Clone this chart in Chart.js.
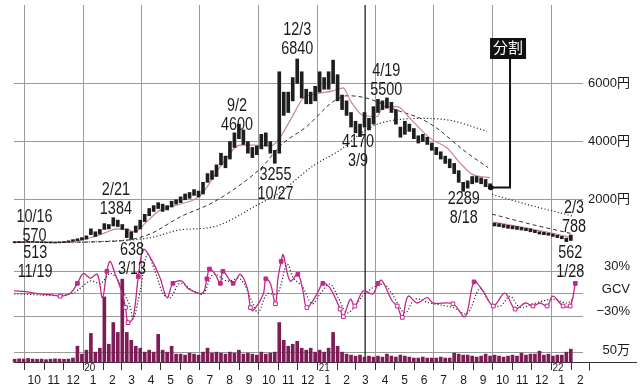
<!DOCTYPE html>
<html>
<head>
<meta charset="utf-8">
<script src="https://cdn.jsdelivr.net/npm/chart.js@4.4.1/dist/chart.umd.min.js"></script>
<style>
  html, body { margin: 0; padding: 0; background: #fff; }
</style>
</head>
<body>
<canvas id="chart" width="640" height="392"></canvas>
<script>
// days counted from 2020-01-01
const day = (y, m, d) => Math.round((Date.UTC(y, m - 1, d) - Date.UTC(2020, 0, 1)) / 864e5);

// weekly candles, first week starts 2019-09-16 (day -107)
const firstWeek = -107;
const candleLow = [
  520, 525, 530, 535, 540, 530, 525, 520, 515, 513, 520, 525,
  540, 570, 590, 620, 650, 800, 740, 820, 980, 1000, 1100, 1080, 980,
  700, 638, 880, 1000, 1250, 1450, 1600, 1700, 1600, 1650, 1750, 1850,
  1900, 2000, 2050, 2150, 2100, 2200, 2600, 2700, 2800, 3200, 3100, 3400,
  3800, 4100, 3900, 3600, 3450, 3550, 3750, 3850, 3600, 3255, 3600, 4900,
  5000, 5400, 6000, 5500, 5300, 5300, 5400, 5700, 5800, 5800, 6000, 5400,
  5100, 4900, 4500, 4300, 4170, 4500, 4400, 4600, 5000, 5100, 5150, 5000,
  4600, 4150, 4250, 4350, 4100, 3950, 4000, 3900, 3700, 3550, 3400, 3250,
  3100, 2900, 2600, 2289, 2400, 2550, 2600, 2550, 2450, 2400,
  1100, 1080, 1050, 1020, 1000, 980, 960, 940, 900, 870, 820, 800, 780, 740, 700, 660, 562, 600
];
const candleHigh = [
  560, 565, 560, 570, 570, 560, 555, 550, 545, 540, 545, 560,
  590, 630, 660, 700, 760, 1000, 900, 980, 1180, 1150, 1384, 1300, 1150,
  1000, 900, 1100, 1300, 1500, 1700, 1800, 1900, 1850, 1800, 1950, 2000,
  2100, 2200, 2250, 2350, 2300, 2600, 2900, 3000, 3200, 3600, 3500, 4000,
  4300, 4600, 4400, 4000, 3800, 3850, 4250, 4300, 4000, 3700, 6400, 5700,
  5700, 6200, 6840, 6400, 5800, 5700, 5900, 6400, 6200, 6400, 6800, 6300,
  5600, 5400, 5000, 4700, 4600, 5000, 4800, 5200, 5450, 5400, 5500, 5350,
  5100, 4500, 4700, 4600, 4450, 4200, 4250, 4150, 3950, 3800, 3650, 3500,
  3400, 3250, 3000, 2600, 2650, 2800, 2800, 2750, 2700, 2550,
  1200, 1180, 1150, 1120, 1100, 1080, 1050, 1020, 1000, 950, 900, 880, 850, 820, 780, 740, 680, 788
];
// weekly volume, 万株
const volume = [
  14, 16, 15, 18, 15, 14, 15, 12, 14, 16, 15, 14,
  15, 20, 80, 40, 60, 145, 50, 70, 330, 90, 200, 150, 420,
  150, 110, 80, 70, 50, 60, 50, 140, 60, 50, 80, 40,
  40, 35, 45, 40, 35, 50, 70, 45, 50, 45, 40, 50,
  45, 60, 40, 45, 40, 35, 50, 40, 45, 50, 200, 110,
  80, 90, 105, 70, 60, 70, 50, 60, 50, 70, 150, 80,
  50, 40, 35, 30, 35, 25, 30, 25, 30, 25, 40, 30,
  25, 35, 30, 25, 20, 20, 25, 20, 20, 20, 25, 20,
  20, 45, 40, 35, 35, 30, 25, 30, 40, 30,
  35, 30, 25, 30, 35, 30, 45, 35, 40, 40, 55, 35, 40, 30, 35, 35, 50, 65
];

// moving averages (null = break at the stock split)
const ma25Days = [-108, -20, 11, 34, 53, 70, 81, 97, 120, 151, 183, 218, 245, 265, 292, 303, 323, 343, 365, 390, 406, 417, 437, 459, 468, 490, 510, 541, 568, 588, 608, 635, 637, 640, 682, 729, 763];
const ma25 = [540, 545, 695, 864, 1000, 966, 898, 1203, 1644, 1847, 2153, 3271, 3881, 3881, 3847, 4017, 4729, 5475, 5644, 5746, 5847, 5407, 4898, 4864, 5203, 5203, 4797, 4119, 3780, 3271, 2864, 2763, null, 1237, 1068, 864, 695];
const ma75Days = [-108, -36, 27, 73, 105, 151, 203, 256, 281, 307, 349, 390, 412, 440, 491, 526, 552, 593, 632, 634, 638, 697, 764];
const ma75 = [540, 540, 560, 627, 830, 1407, 1915, 2695, 3169, 3847, 4525, 5373, 5576, 5508, 5068, 4797, 4458, 3712, 3102, null, 1508, 1169, 830];
const ma200Days = [-108, -20, 42, 105, 151, 203, 271, 307, 359, 401, 440, 463, 526, 573, 630, 634, 638, 697, 764];
const ma200 = [540, 540, 580, 695, 966, 1068, 1814, 2254, 3169, 3712, 4390, 4627, 4797, 4729, 4356, null, 2186, 1814, 1441];

// GCV (%)
const gcvDays = [-108, -90, -67, -51, -36, -20, -9, 0, 11, 22, 30, 37, 42, 50, 58, 62, 66, 70, 78, 86, 94, 108, 120, 131, 140, 154, 164, 186, 193, 197, 206, 214, 218, 234, 245, 256, 261, 265, 281, 285, 292, 300, 304, 309, 312, 323, 335, 343, 349, 365, 374, 385, 401, 406, 417, 424, 437, 452, 460, 466, 482, 490, 498, 507, 521, 537, 546, 577, 596, 610, 624, 640, 658, 674, 690, 702, 713, 724, 733, 749, 760, 768];
const gcv = [4, 3, 0, -1, -3, 1, 14, 27, 21, 26, -5, 30, 43, 26, 8, -3, -18, -38, -31, 23, 59, 43, 21, -5, 14, 17, 7, 1, 20, 33, 26, 14, 30, 14, 26, 8, -18, -22, 0, 20, 14, -13, 21, 43, 52, 17, 26, 4, -18, 0, 14, 8, -20, -30, -7, -16, 4, 0, 14, 18, -9, -16, -31, -3, -12, -5, -12, -13, -30, 16, 4, -16, 1, -20, -12, -16, -12, -16, -3, -16, -16, 14];
const gcvUpIdx = [6, 11, 19, 24, 28, 29, 31, 32, 33, 39, 43, 46, 50, 58, 69, 81];
const gcvDownIdx = [4, 16, 17, 36, 41, 48, 52, 53, 55, 61, 62, 67, 71, 73, 75, 77, 79, 80];
const gcvSigDays = [-108, -20, 11, 27, 42, 53, 62, 73, 78, 89, 100, 112, 125, 136, 151, 172, 187, 203, 225, 245, 265, 273, 287, 303, 318, 328, 342, 357, 370, 385, 398, 412, 427, 440, 468, 482, 502, 518, 541, 577, 599, 619, 635, 651, 666, 682, 702, 733, 755, 764];
const gcvSig = [0, 0, 17, 14, 27, 20, 4, -16, -33, 4, 52, 30, 0, -5, 14, 4, 0, 26, 17, 20, -13, -25, 0, 0, 39, 21, 10, -13, 0, 13, -5, -25, -13, 1, 13, 0, -25, -7, -12, -18, -26, 7, -12, -16, -3, -18, -13, -7, -12, -7];

const priceTicks = [2000, 4000, 6000];
const gcvTicks = [-30, 0, 30];
const gcvTickLabels = { '-30': '−30%', '0': 'GCV', '30': '30%' };
const volTicks = [50];

const notes = [
  { day: -76, value: 1407, lines: ['10/16', '570'] },
  { day: -75, value: 153, lines: ['513', '11/19'] },
  { day: 51, value: 2322, lines: ['2/21', '1384'] },
  { day: 76, value: 288, lines: ['638', '3/13'] },
  { day: 240, value: 5237, lines: ['9/2', '4600'] },
  { day: 300, value: 2864, lines: ['3255', '10/27'] },
  { day: 334, value: 7847, lines: ['12/3', '6840'] },
  { day: 473, value: 6424, lines: ['4/19', '5500'] },
  { day: 429, value: 3983, lines: ['4170', '3/9'] },
  { day: 594, value: 2017, lines: ['2289', '8/18'] },
  { day: 766, value: 1712, lines: ['2/3', '788'] },
  { day: 760, value: 153, lines: ['562', '1/28'] }
];
const splitMark = { day: 636, value: 2424, boxDay: 663, boxValue: 7200, text: '分割' };
const markerDay = 440;

const FONT = "'Liberation Sans', 'Noto Sans CJK JP', sans-serif";
const GRID = '#9a9a9a';
const PINK = '#c4258d';

// month ticks for the x axis
const xTicks = [];
const xInfo = new Map();
for (let y = 2019, m = 10; y * 12 + m <= 2022 * 12 + 2; m === 12 ? (y++, m = 1) : m++) {
  const start = day(y, m, 1);
  const next = m === 12 ? day(y + 1, 1, 1) : day(y, m + 1, 1);
  xTicks.push(start);
  xInfo.set(start, { kind: 'start', month: m, year: y });
  xTicks.push((start + next) / 2);
  xInfo.set((start + next) / 2, { kind: 'mid', month: m });
}

const weeks = candleLow.map((_, i) => firstWeek + 7 * i);
const pts = (days, vals) => days.map((d, i) => ({ x: d, y: vals[i] }));

const mctx = document.createElement('canvas').getContext('2d');
function widest(labels, size) {
  mctx.font = size + 'px ' + FONT;
  return Math.max(...labels.map(t => mctx.measureText(t).width));
}
const RIGHT = 44;

// condensed text: the reference uses a narrow face
function narrowText(ctx, text, x, y, sx) {
  ctx.save();
  ctx.translate(x, y);
  ctx.scale(sx, 1);
  ctx.fillText(text, 0, 0);
  ctx.restore();
}

const overlay = {
  id: 'overlay',
  beforeDatasetsDraw(chart) {
    const { ctx, chartArea, scales: { x } } = chart;
    const px = x.getPixelForValue(markerDay);
    ctx.save();
    ctx.strokeStyle = '#222';
    ctx.lineWidth = 1.3;
    ctx.beginPath();
    ctx.moveTo(px, chartArea.top);
    ctx.lineTo(px, chartArea.bottom);
    ctx.stroke();
    ctx.restore();
  },
  afterDatasetsDraw(chart) {
    const { ctx, chartArea, scales: { x, y } } = chart;
    ctx.save();
    ctx.fillStyle = '#1a1a1a';
    ctx.textAlign = 'center';
    ctx.textBaseline = 'middle';
    ctx.font = '18px ' + FONT;
    notes.forEach(n => {
      const px = x.getPixelForValue(n.day);
      const py = y.getPixelForValue(n.value);
      n.lines.forEach((t, i) => narrowText(ctx, t, px, py + i * 19, 0.8));
    });

    // split marker
    const ax = x.getPixelForValue(splitMark.day);
    const ay = y.getPixelForValue(splitMark.value);
    const bx = x.getPixelForValue(splitMark.boxDay);
    const by = y.getPixelForValue(splitMark.boxValue);
    ctx.strokeStyle = '#111';
    ctx.lineWidth = 2;
    ctx.beginPath();
    ctx.moveTo(bx + 2, by);
    ctx.lineTo(bx + 2, ay);
    ctx.lineTo(ax, ay);
    ctx.stroke();
    ctx.beginPath();
    ctx.arc(ax, ay, 2.8, 0, Math.PI * 2);
    ctx.fillStyle = '#111';
    ctx.fill();
    ctx.fillRect(bx - 18, by - 10.5, 36, 21);
    ctx.fillStyle = '#fff';
    ctx.font = '15px ' + FONT;
    ctx.fillText(splitMark.text, bx, by + 0.5);

    // year marks under the axis, axis line carried to the right edge
    ctx.fillStyle = '#1a1a1a';
    ctx.font = '11px ' + FONT;
    ctx.textAlign = 'left';
    [2020, 2021, 2022].forEach(yr => {
      const px = x.getPixelForValue(day(yr, 1, 1));
      narrowText(ctx, String(yr % 100), px + 1, chartArea.bottom + 6, 0.9);
    });
    ctx.strokeStyle = '#333';
    ctx.lineWidth = 1;
    const bottom = Math.round(chartArea.bottom) + 0.5;
    const mar = Math.round(x.getPixelForValue(day(2022, 3, 1))) + 0.5;
    ctx.beginPath();
    ctx.moveTo(chartArea.right, bottom);
    ctx.lineTo(chart.width - 3, bottom);
    ctx.moveTo(mar, bottom);
    ctx.lineTo(mar, bottom + 8);
    ctx.stroke();
    ctx.restore();
  }
};

new Chart(document.getElementById('chart'), {
  type: 'line',
  data: {
    datasets: [
      {
        type: 'bar', label: '株価', yAxisID: 'y', order: 1, grouped: false, clip: false,
        data: weeks.map((d, i) => ({ x: d, y: [candleLow[i], candleHigh[i]] })),
        backgroundColor: '#1e1e1e', barThickness: 3
      },
      {
        label: '25日', yAxisID: 'y', order: 2, data: pts(ma25Days, ma25),
        borderColor: '#c9869f', borderWidth: 1.2, pointRadius: 0, cubicInterpolationMode: 'monotone', spanGaps: false
      },
      {
        label: '75日', yAxisID: 'y', order: 3, data: pts(ma75Days, ma75),
        borderColor: '#333', borderWidth: 1, borderDash: [4, 3], pointRadius: 0, cubicInterpolationMode: 'monotone', spanGaps: false
      },
      {
        label: '200日', yAxisID: 'y', order: 4, data: pts(ma200Days, ma200),
        borderColor: '#333', borderWidth: 1.2, borderDash: [1.2, 2.2], pointRadius: 0, cubicInterpolationMode: 'monotone', spanGaps: false
      },
      {
        label: 'GCV上', yAxisID: 'g', order: 5, showLine: false, clip: false,
        data: gcvUpIdx.map(i => ({ x: gcvDays[i], y: gcv[i] })),
        pointStyle: 'rect', pointRadius: 2.6, backgroundColor: PINK, borderColor: PINK, borderWidth: 1
      },
      {
        label: 'GCV下', yAxisID: 'g', order: 5, showLine: false, clip: false,
        data: gcvDownIdx.map(i => ({ x: gcvDays[i], y: gcv[i] })),
        pointStyle: 'rect', pointRadius: 2.6, backgroundColor: '#fff', borderColor: PINK, borderWidth: 1
      },
      {
        label: 'GCV', yAxisID: 'g', order: 6, data: pts(gcvDays, gcv), clip: false,
        borderColor: PINK, borderWidth: 1.3, pointRadius: 0, tension: 0.35
      },
      {
        label: 'GCV平均', yAxisID: 'g', order: 7, data: pts(gcvSigDays, gcvSig), clip: false,
        borderColor: '#222', borderWidth: 1.1, borderDash: [1.2, 2], pointRadius: 0, tension: 0.35
      },
      {
        type: 'bar', label: '出来高', yAxisID: 'v', order: 8, grouped: false, clip: false,
        data: weeks.map((d, i) => ({ x: d, y: volume[i] })),
        backgroundColor: '#7e1d55', barThickness: 3
      }
    ]
  },
  options: {
    responsive: false,
    devicePixelRatio: 1,
    animation: false,
    events: [],
    layout: { padding: { left: 14, right: 10, top: 0, bottom: 0 } },
    plugins: { legend: { display: false }, tooltip: { enabled: false } },
    scales: {
      x: {
        type: 'linear', min: -108, max: 780, offset: false,
        afterBuildTicks: s => { s.ticks = xTicks.filter(v => v >= -108 && v <= 780).map(v => ({ value: v })); },
        afterFit: s => { s.height = 30; s.paddingLeft = 0; s.paddingRight = 0; },
        grid: {
          offset: false, tickLength: 8, lineWidth: 1,
          color: c => {
            const t = xInfo.get(c.tick && c.tick.value);
            return t && t.kind === 'start' && [1, 4, 7, 10].includes(t.month) ? GRID : 'rgba(0,0,0,0)';
          },
          tickColor: c => {
            const t = xInfo.get(c.tick && c.tick.value);
            return t && t.kind === 'start' ? '#333' : 'rgba(0,0,0,0)';
          }
        },
        border: { display: true, color: '#333', width: 1 },
        ticks: {
          autoSkip: false, maxRotation: 0, minRotation: 0, padding: 3, color: '#1a1a1a',
          font: { family: FONT, size: 12 },
          callback: v => { const t = xInfo.get(v); return t && t.kind === 'mid' ? String(t.month) : ''; }
        }
      },
      y: {
        position: 'right', stack: 'r', stackWeight: 256.5, min: 0, max: 8695,
        afterBuildTicks: s => { s.ticks = priceTicks.map(v => ({ value: v })); },
        afterFit: s => { s.width = 47; s.paddingTop = 0; s.paddingBottom = 0; },
        grid: { color: GRID, drawTicks: false },
        border: { display: false },
        ticks: {
          crossAlign: 'far', color: '#1a1a1a', font: { family: FONT, size: 13 },
          padding: RIGHT - widest(priceTicks.map(v => v + '円'), 13),
          callback: v => v + '円'
        }
      },
      g: {
        position: 'right', stack: 'r', stackWeight: 75.5, min: -50.9, max: 47.6,
        afterBuildTicks: s => { s.ticks = gcvTicks.map(v => ({ value: v })); },
        afterFit: s => { s.width = 47; s.paddingTop = 0; s.paddingBottom = 0; },
        grid: { color: GRID, drawTicks: false },
        border: { display: false },
        ticks: {
          crossAlign: 'far', color: '#1a1a1a', font: { family: FONT, size: 13 }, labelOffset: -5,
          padding: RIGHT - widest(Object.values(gcvTickLabels), 13),
          callback: v => gcvTickLabels[String(v)]
        }
      },
      v: {
        position: 'right', stack: 'r', stackWeight: 30, min: 0, max: 150,
        afterBuildTicks: s => { s.ticks = volTicks.map(v => ({ value: v })); },
        afterFit: s => { s.width = 47; s.paddingTop = 0; s.paddingBottom = 0; },
        grid: { color: GRID, drawTicks: false },
        border: { display: false },
        ticks: {
          crossAlign: 'far', color: '#1a1a1a', font: { family: FONT, size: 13 }, labelOffset: -2,
          padding: RIGHT - widest(['50万'], 13),
          callback: v => v + '万'
        }
      }
    }
  },
  plugins: [overlay]
});
</script>
</body>
</html>
